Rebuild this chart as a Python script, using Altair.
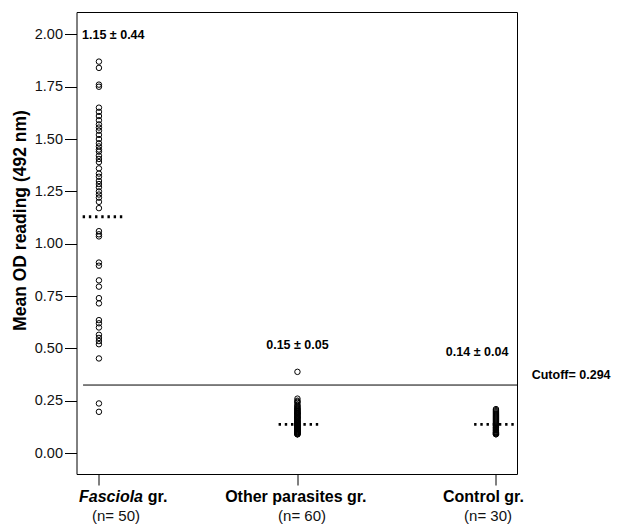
import altair as alt
import pandas as pd

# ---- data ----
fasciola = [1.87, 1.84, 1.76, 1.75,
            1.65, 1.63, 1.61, 1.59, 1.57, 1.555, 1.54, 1.52, 1.50, 1.48,
            1.465, 1.45, 1.44, 1.42, 1.405, 1.39, 1.36, 1.335, 1.32, 1.30,
            1.285, 1.27, 1.25, 1.235, 1.22, 1.20, 1.17,
            1.06, 1.045, 1.035, 0.91, 0.895, 0.825, 0.795, 0.74, 0.715,
            0.635, 0.62, 0.60, 0.565, 0.55, 0.535, 0.52, 0.452, 0.237, 0.197]
other = [0.388,
         0.26, 0.25, 0.245, 0.24, 0.23, 0.225, 0.22, 0.215, 0.21, 0.21, 0.205,
         0.20, 0.20, 0.195, 0.19, 0.19, 0.19, 0.185, 0.18, 0.18, 0.175, 0.17,
         0.17, 0.17, 0.165, 0.16, 0.16, 0.155, 0.15, 0.15, 0.15, 0.145, 0.14,
         0.14, 0.14, 0.135, 0.13, 0.13, 0.13, 0.13, 0.125, 0.12, 0.12, 0.12,
         0.115, 0.115, 0.11, 0.11, 0.11, 0.105, 0.105, 0.10, 0.10, 0.10,
         0.095, 0.095, 0.09, 0.09, 0.09]
control = [0.21, 0.205, 0.20, 0.195, 0.19, 0.185, 0.18, 0.175, 0.17, 0.165,
           0.16, 0.155, 0.15, 0.145, 0.14, 0.135, 0.13, 0.125, 0.12, 0.12,
           0.115, 0.11, 0.11, 0.105, 0.10, 0.10, 0.095, 0.095, 0.09, 0.09]

group_pos = [1, 2, 3]
group_means = [1.129, 0.137, 0.137]
mean_labels = ["1.15 ± 0.44", "0.15 ± 0.05", "0.14 ± 0.04"]
mean_label_x = [0.915, 2.0, 2.905]
mean_label_y = [1.997, 0.516, 0.483]
cutoff_value = 0.325
cutoff_text = "Cutoff= 0.294"
n_labels = ["(n= 50)", "(n= 60)", "(n= 30)"]
n_label_x = [1.086, 2.023, 2.960]
y_ticks = [0.0, 0.25, 0.5, 0.75, 1.0, 1.25, 1.5, 1.75, 2.0]

FONT = "Liberation Sans"

pts = pd.DataFrame({
    "pos": [1] * len(fasciola) + [2] * len(other) + [3] * len(control),
    "value": fasciola + other + control,
})

xs = alt.Scale(domain=[0.887, 3.106], nice=False, zero=False)
ys = alt.Scale(domain=[-0.100, 2.107], nice=False, zero=False)

XAX = alt.Axis(values=group_pos, labels=False, tickSize=11, tickColor="black",
               tickWidth=1, domain=False, grid=False, title=None)
YAX = alt.Axis(values=y_ticks, format=".2f", tickSize=12, tickColor="black",
               tickWidth=1, domain=False, grid=False,
               labelFont=FONT, labelFontSize=14.5, labelColor="#111", labelPadding=2,
               title="Mean OD reading (492 nm)",
               titleFont=FONT, titleFontSize=17.5, titleFontWeight="bold",
               titleColor="black", titleAngle=270, titleAlign="center",
               titleBaseline="middle", titleX=-56, titleY=208)


def X(field):
    return alt.X(field, scale=xs, axis=XAX)


def Y(field):
    return alt.Y(field, scale=ys, axis=YAX)


points = alt.Chart(pts).mark_point(
    shape="circle", filled=False, size=30, color="black", strokeWidth=1, opacity=1
).encode(x=X("pos:Q"), y=Y("value:Q"))

cut_df = pd.DataFrame({"pos": [0.92], "x1": [3.106], "value": [cutoff_value]})
cutoff = alt.Chart(cut_df).mark_rule(color="black", strokeWidth=1).encode(
    x=X("pos:Q"), x2="x1:Q", y=Y("value:Q"))

offs = [0.013, 0.0, -0.015]
mean_df = pd.DataFrame({
    "pos": [p - 0.095 + d for p, d in zip(group_pos, offs)],
    "x1": [p + 0.105 + d for p, d in zip(group_pos, offs)],
    "value": group_means,
})
means = alt.Chart(mean_df).mark_rule(color="black", strokeWidth=2.8,
                                     strokeDash=[2.4, 3.8]).encode(
    x=X("pos:Q"), x2="x1:Q", y=Y("value:Q"))

ml_df = pd.DataFrame({"pos": mean_label_x, "value": mean_label_y, "t": mean_labels})
mtext_left = alt.Chart(ml_df.iloc[[0]]).mark_text(
    font=FONT, fontSize=12.5, fontWeight="bold", color="black", align="left",
    baseline="middle").encode(x=X("pos:Q"), y=Y("value:Q"), text="t:N")
mtext_center = alt.Chart(ml_df.iloc[1:]).mark_text(
    font=FONT, fontSize=12.5, fontWeight="bold", color="black", align="center",
    baseline="middle").encode(x=X("pos:Q"), y=Y("value:Q"), text="t:N")

ct_df = pd.DataFrame({"pos": [3.18], "value": [0.373], "t": [cutoff_text]})
ctext = alt.Chart(ct_df).mark_text(
    font=FONT, fontSize=12.5, fontWeight="bold", color="black", align="left",
    baseline="middle").encode(x=X("pos:Q"), y=Y("value:Q"), text="t:N")

cat_ital = pd.DataFrame({"pos": [1.222], "value": [-0.21], "t": ["Fasciola"]})
cat_ital_t = alt.Chart(cat_ital).mark_text(
    font=FONT, fontSize=16, fontWeight="bold", fontStyle="italic", color="black",
    align="right", baseline="middle").encode(x=X("pos:Q"), y=Y("value:Q"), text="t:N")
cat_gr = pd.DataFrame({"pos": [1.246], "value": [-0.21], "t": ["gr."]})
cat_gr_t = alt.Chart(cat_gr).mark_text(
    font=FONT, fontSize=16, fontWeight="bold", color="black",
    align="left", baseline="middle").encode(x=X("pos:Q"), y=Y("value:Q"), text="t:N")
cat_rest = pd.DataFrame({"pos": [1.992, 2.937], "value": [-0.21, -0.21],
                         "t": ["Other parasites gr.", "Control gr."]})
cat_rest_t = alt.Chart(cat_rest).mark_text(
    font=FONT, fontSize=16, fontWeight="bold", color="black",
    align="center", baseline="middle").encode(x=X("pos:Q"), y=Y("value:Q"), text="t:N")

n_df = pd.DataFrame({"pos": n_label_x, "value": [-0.30] * 3, "t": n_labels})
n_t = alt.Chart(n_df).mark_text(
    font=FONT, fontSize=15, color="#111", align="center", baseline="middle").encode(
    x=X("pos:Q"), y=Y("value:Q"), text="t:N")

chart = alt.layer(
    points, cutoff, means, mtext_left, mtext_center, ctext,
    cat_ital_t, cat_gr_t, cat_rest_t, n_t
).properties(
    width=440.5, height=462,
    background="white",
    autosize=alt.AutoSizeParams(type="none"),
    padding={"left": 68.5, "top": 4, "right": 100, "bottom": 50},
).configure_view(
    stroke="black", strokeWidth=1
)

chart.save("out.html", embed_options={"renderer": "svg", "actions": False})
